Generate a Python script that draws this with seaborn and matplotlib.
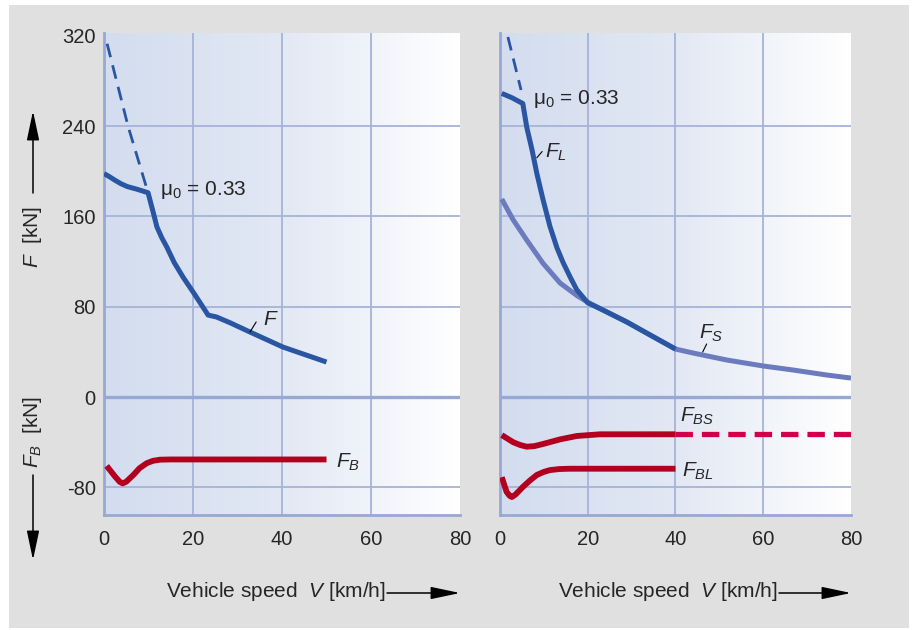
import numpy as np
import pandas as pd
import matplotlib
matplotlib.use("Agg")
import matplotlib.pyplot as plt
import seaborn as sns
from matplotlib.patches import Rectangle, FancyArrowPatch
from matplotlib.colors import LinearSegmentedColormap

# ---------------- data ----------------
x_ticks = [0, 20, 40, 60, 80]
y_ticks = [-80, 0, 80, 160, 240, 320]
y_ticklabels = ["-80", "0", "80", "160", "240", "320"]

# left panel
lim_left_v = [0.7, 5.4, 9.9]
lim_left_f = [313, 240, 181]
f_left_v = [0, 1.3, 2.5, 3.8, 5.2, 7.5, 9.9, 11.1, 11.9, 13.0, 14.1, 15.8, 17.8, 20.2, 23.4, 25.3, 28.5, 32.8, 40.2, 50]
f_left_f = [198, 195, 192, 189, 186.5, 184, 181, 163, 150.6, 141, 133, 119, 106, 92, 72.6, 70.9, 65.5, 57.6, 44.3, 31]
fb_left_v = [0.6, 2.4, 3.5, 4.2, 5.0, 6.6, 8.0, 9.6, 11.0, 12.6, 15, 20, 50]
fb_left_f = [-61, -70, -75, -76.5, -75, -69, -63, -58.6, -56.5, -55.5, -55.3, -55.3, -55.3]

# right panel
fl_dash_v = [1.8, 4.8]
fl_dash_f = [319, 272]
fl_v = [0.4, 2.8, 5.2, 6.1, 7.3, 8.4, 9.8, 11.4, 13.0, 14.4, 15.9, 17.5, 20, 23.5, 28.9, 34.2, 40]
fl_f = [269, 265, 260, 239, 219, 198, 175, 151, 132, 119, 107, 95, 83.5, 77, 66.5, 55, 42.5]
fs_v = [0.4, 3, 6.1, 9.8, 13.7, 17.5, 20, 23.5, 28.9, 34.2, 40, 44, 51.7, 60, 66.7, 74.5, 80]
fs_f = [175.4, 157, 139, 118.5, 101, 90, 84, 77, 66.5, 55, 42.5, 39, 32.8, 27.5, 24, 19.5, 16.8]
fbs_v = [0.4, 3, 4.6, 6.1, 7.8, 9.8, 13.7, 17.5, 22.8, 40]
fbs_f = [-33.7, -40, -42.5, -44, -43.5, -41.6, -37.5, -34.5, -33, -33]
fbs_dash_v = [40, 80]
fbs_dash_f = [-33, -33]
fbl_v = [0.4, 1.5, 2.2, 2.7, 3.5, 5.2, 6.8, 8.4, 10.0, 11.4, 13.5, 15.9, 40]
fbl_f = [-71, -84, -87.5, -88.6, -86.5, -79.7, -74, -69, -66.3, -64.7, -63.8, -63.5, -63.5]

# ---------------- style ----------------
sns.set_style("white")
plt.rcParams["font.family"] = ["Liberation Sans", "DejaVu Sans"]
plt.rcParams["mathtext.fontset"] = "custom"
plt.rcParams["mathtext.rm"] = "Liberation Sans"
plt.rcParams["mathtext.it"] = "Liberation Sans:italic"

BLUE = "#2955a3"
LBLUE = "#6b7bbd"
RED = "#b3001f"
PINK = "#d0004a"
GRID = "#a6b3d8"
SPINE = "#98a8d4"
GRAY = "#e0e0e0"

W, H = 914, 630
fig = plt.figure(figsize=(W / 100, H / 100), dpi=100)
fig.patch.set_facecolor("white")
fig.patches.append(Rectangle((9 / W, 2 / H), 900 / W, 623 / H, transform=fig.transFigure,
                             facecolor=GRAY, edgecolor="none", zorder=-10))


def px(x, y):
    return (x / W, 1 - y / H)


YMIN, YMAX = -104.5, 322.5
ax1 = fig.add_axes([104 / W, 1 - 515 / H, 356 / W, 482 / H])
ax2 = fig.add_axes([500 / W, 1 - 515 / H, 351 / W, 482 / H])

cmap = LinearSegmentedColormap.from_list("bg", ["#d3ddef", "#e2e8f4", "#ffffff"])
grad = np.linspace(0, 1, 256).reshape(1, -1)

for ax in (ax1, ax2):
    ax.set_xlim(0, 80)
    ax.set_ylim(YMIN, YMAX)
    ax.imshow(grad, extent=[0, 1, 0, 1], transform=ax.transAxes, aspect="auto",
              cmap=cmap, zorder=0)
    for v in [20, 40, 60]:
        ax.axvline(v, color=GRID, lw=1.3, zorder=1)
    for f in [-80, 80, 160, 240]:
        ax.axhline(f, color=GRID, lw=1.3, zorder=1)
    ax.axhline(0, color=SPINE, lw=2.4, zorder=1)
    for s in ["top", "right"]:
        ax.spines[s].set_visible(False)
    for s in ["left", "bottom"]:
        ax.spines[s].set_color(SPINE)
        ax.spines[s].set_linewidth(2)
        ax.spines[s].set_zorder(2)
    ax.set_xticks(x_ticks)
    ax.set_xticklabels([str(t) for t in x_ticks])
    ax.tick_params(axis="x", length=0, pad=11, labelsize=14.5)
    ax.set_xlabel("")
    ax.set_ylabel("")

ax1.set_yticks(y_ticks)
ax1.set_yticklabels(y_ticklabels)
ax1.tick_params(axis="y", length=0, pad=6, labelsize=14.5)
ax2.set_yticks([])


def line(ax, v, f, color, lw, dashes=None, z=3):
    df = pd.DataFrame({"v": v, "f": f})
    sns.lineplot(data=df, x="v", y="f", ax=ax, color=color, lw=lw, sort=False,
                 estimator=None, zorder=z, solid_capstyle="butt",
                 solid_joinstyle="round", legend=False)
    ln = ax.lines[-1]
    if dashes is not None:
        ln.set_dashes(dashes)
        ln.set_dash_capstyle("butt")
    ax.set_xlabel("")
    ax.set_ylabel("")


# left panel curves
line(ax1, lim_left_v, lim_left_f, BLUE, 2.0, dashes=(5, 3))
line(ax1, f_left_v, f_left_f, BLUE, 3.6)
line(ax1, fb_left_v, fb_left_f, RED, 4.2)

# right panel curves
line(ax2, fs_v, fs_f, LBLUE, 3.6)
line(ax2, fl_dash_v, fl_dash_f, BLUE, 2.0, dashes=(5, 3))
line(ax2, fl_v, fl_f, BLUE, 3.6, z=4)
line(ax2, fbs_v, fbs_f, RED, 4.2)
line(ax2, fbs_dash_v, fbs_dash_f, PINK, 3.8, dashes=(3.3, 1.7))
line(ax2, fbl_v, fbl_f, RED, 4.2)

for ax in (ax1, ax2):
    ax.set_xlim(0, 80)
    ax.set_ylim(YMIN, YMAX)
    ax.set_xticks(x_ticks)

FS = 15
# left annotations
ax1.text(12.6, 179, r"μ$_0$ = 0.33", fontsize=FS, va="baseline", ha="left", zorder=6)
ax1.text(35.7, 63.5, r"$F$", fontsize=FS, va="baseline", ha="left", zorder=6)
ax1.plot([32.8, 34.2], [57.6, 66.5], color="black", lw=0.8, zorder=6)
ax1.text(52.1, -63, r"$F_B$", fontsize=FS, va="baseline", ha="left", zorder=6)

# right annotations
ax2.text(7.5, 260, r"μ$_0$ = 0.33", fontsize=FS, va="baseline", ha="left", zorder=6)
ax2.text(10.3, 212, r"$F_L$", fontsize=FS, va="baseline", ha="left", zorder=6)
ax2.plot([8.4, 9.6], [212, 217.5], color="black", lw=0.8, zorder=6)
ax2.text(45.3, 51.4, r"$F_S$", fontsize=FS, va="baseline", ha="left", zorder=6)
ax2.plot([46.2, 47.1], [39.9, 47], color="black", lw=0.8, zorder=6)
ax2.text(41.0, -22, r"$F_{BS}$", fontsize=FS, va="baseline", ha="left", zorder=6)
ax2.text(41.5, -70.9, r"$F_{BL}$", fontsize=FS, va="baseline", ha="left", zorder=6)

# axis labels and arrows (figure level)
fig.text(*px(33, 237), r"$F$  [kN]", rotation=90, fontsize=FS, ha="center", va="center")
fig.text(*px(33, 432), r"$F_B$  [kN]", rotation=90, fontsize=FS, ha="center", va="center")

arrow_style = "-|>,head_length=1.8,head_width=0.38"


def arrow(p0, p1):
    a = FancyArrowPatch(px(*p0), px(*p1), transform=fig.transFigure, arrowstyle=arrow_style,
                        mutation_scale=10, lw=1.1, color="black", shrinkA=0, shrinkB=0)
    fig.add_artist(a)


arrow((33, 193), (33, 111))
arrow((33, 475), (33, 560))
arrow((387, 593), (460, 593))
arrow((779, 593), (851, 593))

fig.text(*px(386, 597), r"Vehicle speed  $V$ [km/h]", fontsize=FS, ha="right", va="baseline")
fig.text(*px(778, 597), r"Vehicle speed  $V$ [km/h]", fontsize=FS, ha="right", va="baseline")

fig.savefig("out.png", dpi=100, facecolor=fig.get_facecolor())
